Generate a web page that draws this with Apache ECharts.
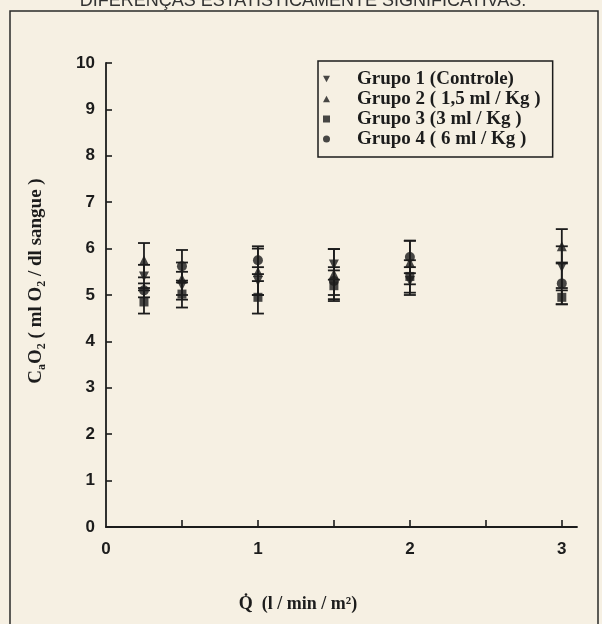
<!DOCTYPE html>
<html>
<head>
<meta charset="utf-8">
<script src="https://cdn.jsdelivr.net/npm/echarts@6/dist/echarts.min.js"></script>
<style>
  html, body { margin: 0; padding: 0; background: #f6f0e3; }
  #chart { width: 602px; height: 624px; }
</style>
</head>
<body>
<div id="chart"></div>
<script>
// Cardiac index (l/min/m²) at which arterial O2 content was measured
const flow = [0.25, 0.5, 1, 1.5, 2, 3];

// Mean CaO2 (ml O2 / dl sangue) per group, with error-bar half widths
const grupo1 = [5.40, 5.20, 5.30, 5.66, 5.30, 5.60];
const grupo1Err = [0.25, 0.30, 0.30, 0.33, 0.30, 0.45];
const grupo2 = [5.75, 5.35, 5.50, 5.45, 5.70, 6.05];
const grupo2Err = [0.37, 0.35, 0.50, 0.54, 0.47, 0.37];
const grupo3 = [4.85, 5.02, 4.95, 5.20, 5.40, 4.95];
const grupo3Err = [0.25, 0.29, 0.35, 0.33, 0.35, 0.15];
const grupo4 = [5.10, 5.62, 5.75, 5.30, 5.82, 5.25];
const grupo4Err = [0.15, 0.35, 0.30, 0.30, 0.35, 0.45];

const groupNames = ['Grupo 1 (Controle)', 'Grupo 2 ( 1,5 ml / Kg )', 'Grupo 3 (3 ml / Kg )', 'Grupo 4 ( 6 ml / Kg )'];
const xTickValues = [0.5, 1, 1.5, 2, 2.5, 3];
const xLabelValues = [0, 1, 2, 3];

const downTri = 'path://M0,0 L10,0 L5,9 Z';
const upTri = 'path://M5,0 L10,9 L0,9 Z';
const symbols = [downTri, upTri, 'rect', 'circle'];
const means = [grupo1, grupo2, grupo3, grupo4];
const errs = [grupo1Err, grupo2Err, grupo3Err, grupo4Err];

const ink = '#1c1c1c';
const serif = '"Liberation Serif", "Times New Roman", serif';
const sans = '"Liberation Sans", Arial, sans-serif';

function errorBarSeries(mean, err) {
  return {
    type: 'custom',
    name: 'err',
    silent: true,
    data: flow.map((x, i) => [x, mean[i], err[i]]),
    renderItem: function (params, api) {
      const x = api.value(0), y = api.value(1), e = api.value(2);
      const top = api.coord([x, y + e]);
      const bot = api.coord([x, y - e]);
      const half = 6;
      const style = { stroke: ink, lineWidth: 1.8, fill: null };
      return {
        type: 'group',
        children: [
          { type: 'line', shape: { x1: top[0], y1: top[1], x2: bot[0], y2: bot[1] }, style: style },
          { type: 'line', shape: { x1: top[0] - half, y1: top[1], x2: top[0] + half, y2: top[1] }, style: style },
          { type: 'line', shape: { x1: bot[0] - half, y1: bot[1], x2: bot[0] + half, y2: bot[1] }, style: style }
        ]
      };
    },
    z: 2
  };
}

const series = [];
means.forEach((m, g) => {
  series.push(errorBarSeries(m, errs[g]));
});
means.forEach((m, g) => {
  series.push({
    type: 'scatter',
    name: groupNames[g],
    symbol: symbols[g],
    symbolSize: g === 2 ? 9 : 10,
    itemStyle: { color: ink },
    data: flow.map((x, i) => [x, m[i]]),
    z: 3
  });
});

const chart = echarts.init(document.getElementById('chart'), null, { renderer: 'canvas' });
chart.setOption({
  backgroundColor: '#f6f0e3',
  animation: false,
  grid: { left: 106, right: 25, top: 63, bottom: 97 },
  xAxis: {
    type: 'value',
    min: 0,
    max: 3.1,
    splitLine: { show: false },
    axisLine: { onZero: false, lineStyle: { color: ink, width: 1.8 } },
    axisTick: { inside: true, length: 7, customValues: xTickValues, lineStyle: { color: ink, width: 1.6 } },
    axisLabel: {
      customValues: xLabelValues,
      margin: 14,
      color: ink,
      fontFamily: sans,
      fontWeight: 'bold',
      fontSize: 17
    }
  },
  yAxis: {
    type: 'value',
    min: 0,
    max: 10,
    interval: 1,
    splitLine: { show: false },
    axisLine: { onZero: false, lineStyle: { color: ink, width: 1.8 } },
    axisTick: { inside: true, length: 6, lineStyle: { color: ink, width: 1.6 } },
    axisLabel: {
      margin: 11,
      color: ink,
      fontFamily: sans,
      fontWeight: 'bold',
      fontSize: 17
    }
  },
  legend: {
    data: groupNames.map((n, g) => ({ name: n, icon: symbols[g] })),
    orient: 'vertical',
    left: 318,
    top: 61,
    padding: [8, 12, 8, 5],
    itemGap: 0,
    itemWidth: 7,
    itemHeight: 7,
    borderColor: ink,
    borderWidth: 1.5,
    textStyle: {
      color: ink,
      fontFamily: serif,
      fontWeight: 'bold',
      fontSize: 19,
      lineHeight: 20,
      padding: [0, 0, 0, 22]
    },
    selectedMode: false
  },
  graphic: [
    {
      type: 'rect',
      shape: { x: 10, y: 11, width: 588, height: 640 },
      style: { fill: null, stroke: '#2a2a2a', lineWidth: 1.5 },
      silent: true
    },
    {
      type: 'text',
      x: 303,
      y: 1,
      style: {
        text: 'DIFERENÇAS ESTATISTICAMENTE SIGNIFICATIVAS.',
        fill: '#333333',
        font: '18px ' + sans,
        align: 'center',
        verticalAlign: 'middle'
      }
    },
    {
      type: 'text',
      x: 36,
      y: 281,
      rotation: Math.PI / 2,
      style: {
        text: '{m|C}{s|a}{m|O}{s|2}{m| ( ml O}{s|2}{m| / dl sangue )}',
        align: 'center',
        verticalAlign: 'middle',
        rich: {
          m: { fontFamily: serif, fontWeight: 'bold', fontSize: 19, fill: ink, lineHeight: 24, verticalAlign: 'middle' },
          s: { fontFamily: serif, fontWeight: 'bold', fontSize: 12, fill: ink, lineHeight: 24, verticalAlign: 'bottom' }
        }
      }
    },
    {
      type: 'text',
      x: 298,
      y: 604,
      style: {
        text: 'Q\u0307  (l / min / m\u00B2)',
        align: 'center',
        verticalAlign: 'middle',
        fontFamily: serif,
        fontWeight: 'bold',
        fontSize: 18,
        fill: ink
      }
    }
  ],
  series: series
});
</script>
</body>
</html>
